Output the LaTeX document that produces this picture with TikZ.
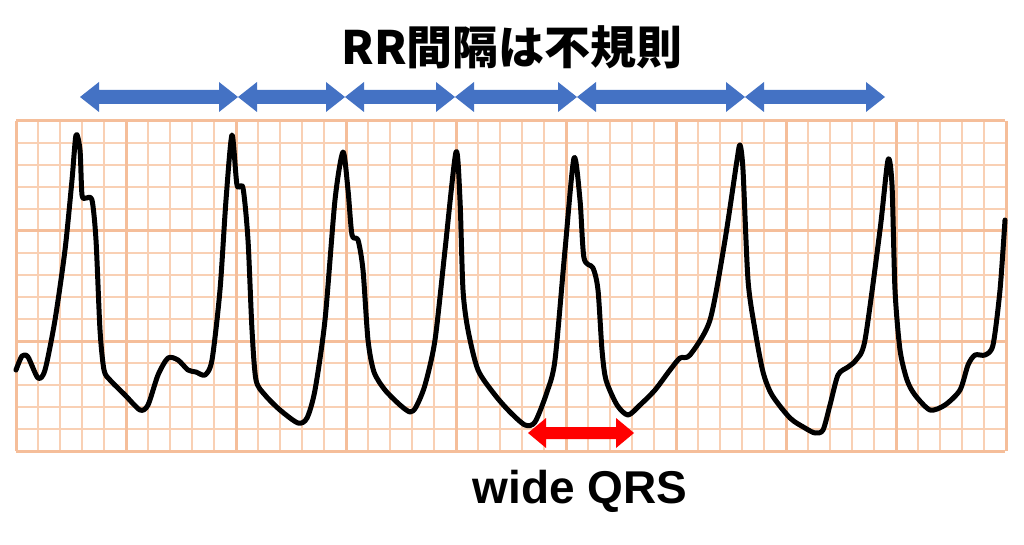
\documentclass[tikz,border=0pt]{standalone}
\usepackage{fontspec}
\setmainfont{Liberation Sans}
\newfontfamily\cjk{Noto Sans CJK JP}
\tikzset{ecg/.style={line width=5pt, line join=round, line cap=round}}
\definecolor{gridmin}{HTML}{F9D0B4}
\definecolor{gridmaj}{HTML}{F5BE9A}
\definecolor{arrblue}{HTML}{4472C4}
\begin{document}
\begin{tikzpicture}[x=1pt,y=-1pt]
\useasboundingbox (0,0) rectangle (1024,545);
\fill[white] (0,0) rectangle (1024,545);
\foreach \i in {0,...,45} {\draw[gridmin, line width=1.8pt] (16+\i*22,121) -- (16+\i*22,451);}
\foreach \j in {0,...,15} {\draw[gridmin, line width=1.8pt] (16,121+\j*22) -- (1005,121+\j*22);}
\foreach \i in {0,...,9} {\draw[gridmaj, line width=3pt] (16+\i*110,121) -- (16+\i*110,451);}
\foreach \j in {0,...,3} {\draw[gridmaj, line width=3pt] (16,121+\j*110) -- (1005,121+\j*110);}
\draw[ecg] plot[smooth, tension=0.45] coordinates {(16,370) (22,356) (28,357) (38,378) (45,370) (55,320) (65,250) (72,180) (76,135) (80,150) (82,195) (86,198) (92,200) (96,240) (100,330) (104,370) (110,380) (125,395) (140,410) (148,405) (158,375) (168,358) (178,360) (188,370) (196,372) (205,375) (212,360) (220,290) (226,200) (232,135) (237,185) (243,188) (248,240) (252,330) (256,380) (265,395) (280,410) (298,423) (307,418) (315,390) (325,320) (335,200) (343,152) (348,190) (352,235) (358,240) (363,270) (368,340) (374,372) (385,390) (400,405) (410,412) (416,407) (425,385) (435,340) (445,250) (456,152) (460,200) (463,290) (468,330) (478,370) (495,395) (510,412) (525,425) (535,422) (547,392) (555,360) (565,250) (574,158) (580,200) (584,258) (593,268) (598,290) (602,350) (606,380) (617,405) (628,415) (640,405) (655,390) (670,370) (680,358) (690,355) (710,320) (725,240) (737,160) (740,145) (743,170) (748,280) (755,330) (763,372) (772,395) (790,418) (805,428) (815,433) (823,430) (830,405) (838,375) (848,367) (856,360) (865,340) (880,230) (888,160) (892,185) (895,290) (900,350) (907,380) (915,395) (930,410) (945,405) (960,390) (968,365) (975,355) (985,355) (993,345) (1000,290) (1005,220)};
\newcommand\bl[2]{\fill[arrblue] (#1,97) -- (#1+19,82) -- (#1+19,90) -- (#2-19,90) -- (#2-19,82) -- (#2,97) -- (#2-19,112) -- (#2-19,104) -- (#1+19,104) -- (#1+19,112) -- cycle;}
\bl{80}{238}\bl{238}{345}\bl{345}{455}\bl{455}{577}\bl{577}{745}\bl{745}{885}
\fill[red] (528,433) -- (546,418) -- (546,427) -- (616,427) -- (616,418) -- (634,433) -- (616,448) -- (616,439) -- (546,439) -- (546,448) -- cycle;
\node (title) at (512,47) {\cjk\bfseries\fontsize{46}{50}\selectfont RR間隔は不規則};
\node (qrs) at (580,491) {\bfseries\fontsize{46}{50}\selectfont wide QRS};
\end{tikzpicture}
\end{document}
